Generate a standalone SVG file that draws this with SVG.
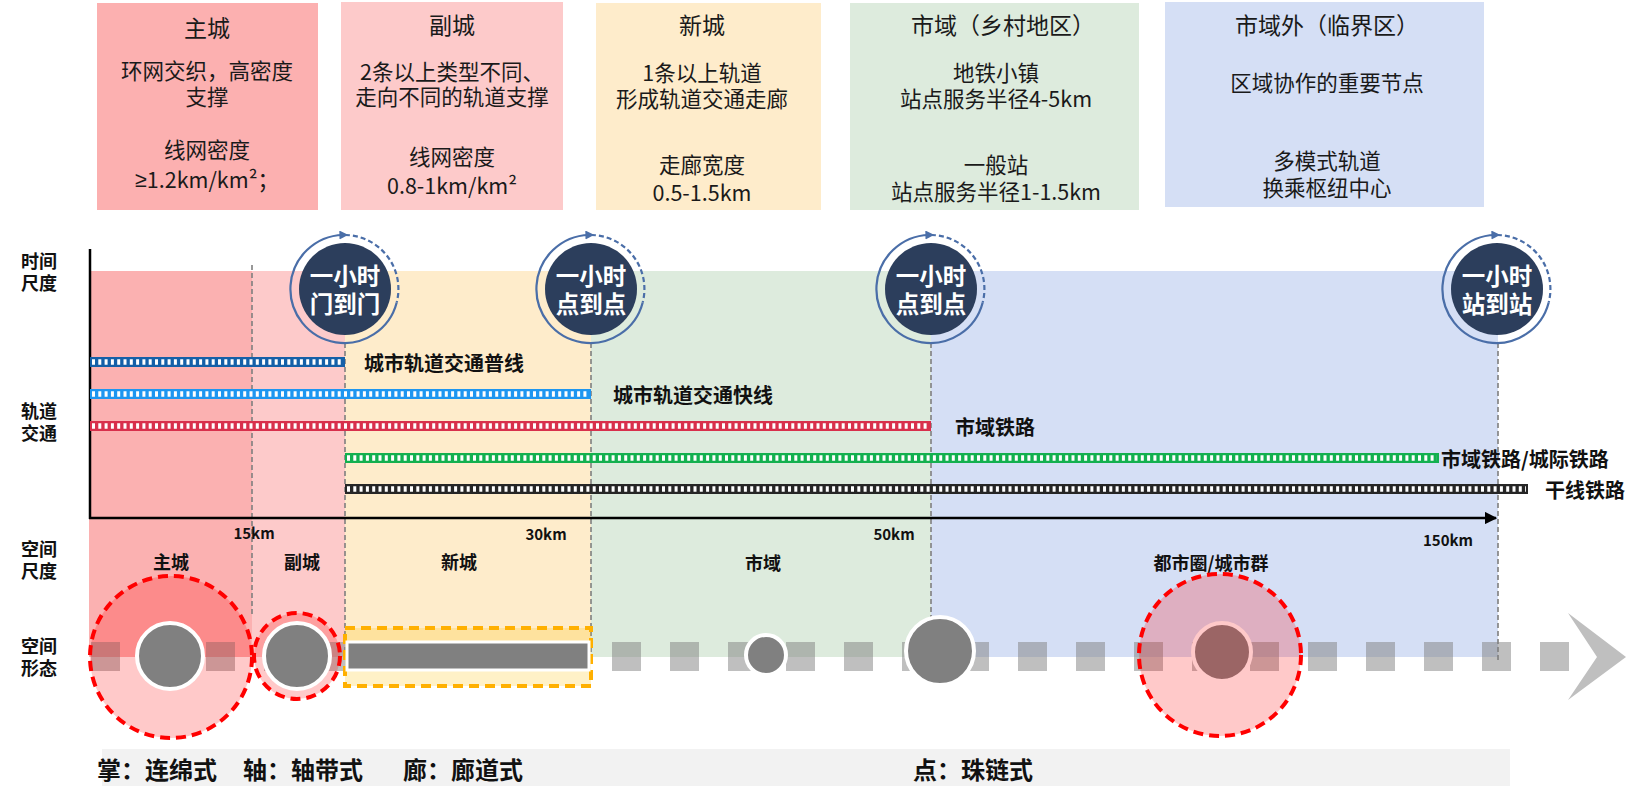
<svg xmlns="http://www.w3.org/2000/svg" width="1636" height="802" viewBox="0 0 1636 802">
<style>
.box-title{font-family:"Noto Sans CJK SC",sans-serif;font-size:23px;fill:#1a1a1a;text-anchor:middle;dominant-baseline:central}
.box-text{font-family:"Noto Sans CJK SC",sans-serif;font-size:21.5px;fill:#1a1a1a;text-anchor:middle;dominant-baseline:central}
.side{font-family:"Noto Sans CJK SC",sans-serif;font-size:18px;font-weight:bold;fill:#111;dominant-baseline:central}
.lbl{font-family:"Noto Sans CJK SC",sans-serif;font-size:20px;font-weight:bold;fill:#111;dominant-baseline:central}
.zlbl{font-family:"Noto Sans CJK SC",sans-serif;font-size:18px;font-weight:bold;fill:#111;dominant-baseline:central;text-anchor:middle}
.km{font-family:"Noto Sans CJK SC",sans-serif;font-size:15px;font-weight:bold;fill:#111;dominant-baseline:central;text-anchor:middle}
.hour{font-family:"Noto Sans CJK SC",sans-serif;font-size:23.5px;font-weight:bold;fill:#fff;dominant-baseline:central;text-anchor:middle}
.form{font-family:"Noto Sans CJK SC",sans-serif;font-size:24px;font-weight:bold;fill:#111;dominant-baseline:central}
.vdash{stroke:#7f7f7f;stroke-width:1.6;stroke-dasharray:5 3;fill:none}
.rail-tick{stroke:#fff;stroke-width:5.5;stroke-dasharray:3 3.3;fill:none}
.ring{fill:none;stroke:#4a6ea8;stroke-width:2.2}
.ring-d{fill:none;stroke:#4a6ea8;stroke-width:2.2;stroke-dasharray:5 3}
.hub{fill:#2c3e5c}
.sq{fill:#808080;fill-opacity:0.5}
.core{fill:#808080;stroke:#fff;stroke-width:4}
.halo{fill:#ff0000;fill-opacity:0.21;stroke:#ff0000;stroke-width:4;stroke-dasharray:10 6}
</style>
<defs>
<marker id="ringArrow" viewBox="0 0 10 10" refX="4" refY="5" markerWidth="9" markerHeight="9" orient="auto" markerUnits="userSpaceOnUse">
<path d="M0,0 L10,5 L0,10 z" fill="#4a6ea8"/>
</marker>
<marker id="axisArrow" viewBox="0 0 10 10" refX="9" refY="5" markerWidth="5" markerHeight="5" orient="auto">
<path d="M0,0 L10,5 L0,10 z" fill="#000"/>
</marker>
</defs>
<rect width="1636" height="802" fill="#fff"/>

<!-- top boxes -->
<g id="box-main">
<rect x="97" y="3" width="221" height="207" fill="#fcb0b0"/>
<text class="box-title" x="207" y="27">主城</text>
<text class="box-text" x="207" y="69">环网交织，高密度</text>
<text class="box-text" x="207" y="95">支撑</text>
<text class="box-text" x="207" y="148">线网密度</text>
<text class="box-text" x="207" y="178"><tspan font-family="Noto Sans, sans-serif">≥</tspan>1.2km/km²；</text>
</g>
<g id="box-sub">
<rect x="341" y="2" width="222" height="208" fill="#fdcaca"/>
<text class="box-title" x="452" y="24">副城</text>
<text class="box-text" x="452" y="70">2条以上类型不同、</text>
<text class="box-text" x="452" y="95">走向不同的轨道支撑</text>
<text class="box-text" x="452" y="155">线网密度</text>
<text class="box-text" x="452" y="184">0.8-1km/km²</text>
</g>
<g id="box-new">
<rect x="596" y="3" width="225" height="207" fill="#feeccb"/>
<text class="box-title" x="702" y="24">新城</text>
<text class="box-text" x="702" y="71">1条以上轨道</text>
<text class="box-text" x="702" y="97">形成轨道交通走廊</text>
<text class="box-text" x="702" y="163">走廊宽度</text>
<text class="box-text" x="702" y="191">0.5-1.5km</text>
</g>
<g id="box-city">
<rect x="850" y="3" width="289" height="207" fill="#ddebdd"/>
<text class="box-title" x="1003" y="24">市域（乡村地区）</text>
<text class="box-text" x="996" y="71">地铁小镇</text>
<text class="box-text" x="996" y="97">站点服务半径4-5km</text>
<text class="box-text" x="996" y="163">一般站</text>
<text class="box-text" x="996" y="190">站点服务半径1-1.5km</text>
</g>
<g id="box-outer">
<rect x="1165" y="2" width="319" height="205" fill="#d5dff5"/>
<text class="box-title" x="1327" y="24">市域外（临界区）</text>
<text class="box-text" x="1327" y="81">区域协作的重要节点</text>
<text class="box-text" x="1327" y="159">多模式轨道</text>
<text class="box-text" x="1327" y="186">换乘枢纽中心</text>
</g>

<!-- zone backgrounds -->
<g id="zones">
<rect x="89" y="271" width="163" height="386" fill="#fbb1b1"/>
<rect x="252" y="271" width="93" height="386" fill="#fdcaca"/>
<rect x="345" y="271" width="246" height="386" fill="#feeccb"/>
<rect x="591" y="271" width="340" height="386" fill="#ddebdd"/>
<rect x="931" y="271" width="567" height="386" fill="#d5dff5"/>
</g>

<!-- side labels -->
<g id="side-labels">
<text class="side" x="21" y="260">时间</text>
<text class="side" x="21" y="282">尺度</text>
<text class="side" x="21" y="410">轨道</text>
<text class="side" x="21" y="432">交通</text>
<text class="side" x="21" y="548">空间</text>
<text class="side" x="21" y="570">尺度</text>
<text class="side" x="21" y="645">空间</text>
<text class="side" x="21" y="667">形态</text>
</g>

<!-- space form dashes -->
<g id="form-band">
<rect class="sq" x="91" y="642" width="29" height="29"/>
<rect class="sq" x="148" y="642" width="29" height="29"/>
<rect class="sq" x="206" y="642" width="29" height="29"/>
<rect class="sq" x="264" y="642" width="29" height="29"/>
<rect class="sq" x="322" y="642" width="29" height="29"/>
<rect class="sq" x="612" y="642" width="29" height="29"/>
<rect class="sq" x="670" y="642" width="29" height="29"/>
<rect class="sq" x="728" y="642" width="29" height="29"/>
<rect class="sq" x="786" y="642" width="29" height="29"/>
<rect class="sq" x="844" y="642" width="29" height="29"/>
<rect class="sq" x="902" y="642" width="29" height="29"/>
<rect class="sq" x="960" y="642" width="29" height="29"/>
<rect class="sq" x="1018" y="642" width="29" height="29"/>
<rect class="sq" x="1076" y="642" width="29" height="29"/>
<rect class="sq" x="1134" y="642" width="29" height="29"/>
<rect class="sq" x="1192" y="642" width="29" height="29"/>
<rect class="sq" x="1250" y="642" width="29" height="29"/>
<rect class="sq" x="1308" y="642" width="29" height="29"/>
<rect class="sq" x="1366" y="642" width="29" height="29"/>
<rect class="sq" x="1424" y="642" width="29" height="29"/>
<rect class="sq" x="1482" y="642" width="29" height="29"/>
<rect class="sq" x="1540" y="642" width="29" height="29"/>
<polygon points="1568,613 1626,657 1568,700 1597,657" fill="#bfbfbf"/>
</g>

<!-- connectors: guide lines, axes, rail lines -->
<g id="connectors">
<line class="vdash" x1="252" y1="265" x2="252" y2="615"/>
<line class="vdash" x1="345" y1="343" x2="345" y2="657"/>
<line class="vdash" x1="591" y1="343" x2="591" y2="657"/>
<line class="vdash" x1="931" y1="343" x2="931" y2="657"/>
<line class="vdash" x1="1498" y1="343" x2="1498" y2="660"/>
<line x1="90" y1="249" x2="90" y2="519" stroke="#000" stroke-width="2.5"/>
<line x1="89" y1="518" x2="1496" y2="518" stroke="#000" stroke-width="2.5" marker-end="url(#axisArrow)"/>

<line x1="90" y1="362" x2="345" y2="362" stroke="#1560a8" stroke-width="10"/>
<line class="rail-tick" x1="92" y1="362" x2="343" y2="362"/>
<line x1="90" y1="394" x2="591" y2="394" stroke="#1e96f0" stroke-width="10"/>
<line class="rail-tick" x1="92" y1="394" x2="589" y2="394"/>
<line x1="90" y1="426" x2="931" y2="426" stroke="#d8304c" stroke-width="10"/>
<line class="rail-tick" x1="92" y1="426" x2="929" y2="426"/>
<line x1="345" y1="458" x2="1439" y2="458" stroke="#13b04f" stroke-width="10"/>
<line class="rail-tick" x1="347" y1="458" x2="1437" y2="458"/>
<line x1="345" y1="489" x2="1528" y2="489" stroke="#262626" stroke-width="10"/>
<line class="rail-tick" x1="347" y1="489" x2="1526" y2="489"/>
</g>

<g id="rail-labels">
<text class="lbl" x="364" y="362">城市轨道交通普线</text>
<text class="lbl" x="613" y="394">城市轨道交通快线</text>
<text class="lbl" x="955" y="426">市域铁路</text>
<text class="lbl" x="1441" y="458">市域铁路/城际铁路</text>
<text class="lbl" x="1545" y="489">干线铁路</text>
</g>

<g id="km-labels">
<text class="km" x="254" y="532">15km</text>
<text class="km" x="546" y="533">30km</text>
<text class="km" x="894" y="533">50km</text>
<text class="km" x="1448" y="539">150km</text>
</g>

<g id="zone-labels">
<text class="zlbl" x="171" y="561">主城</text>
<text class="zlbl" x="302" y="561">副城</text>
<text class="zlbl" x="459" y="561">新城</text>
<text class="zlbl" x="763" y="562">市域</text>
<text class="zlbl" x="1211" y="562">都市圈/城市群</text>
</g>

<!-- one-hour circles -->
<g id="hour-1">
<path class="ring" d="M396.7,302.5 A54,54 0 1 1 343,235" marker-end="url(#ringArrow)"/>
<path class="ring-d" d="M345,235 A54,54 0 0 1 396.7,302.5"/>
<circle class="hub" cx="345" cy="289" r="46"/>
<text class="hour" x="345" y="275">一小时</text>
<text class="hour" x="345" y="303">门到门</text>
</g>
<g id="hour-2">
<path class="ring" d="M642.7,302.5 A54,54 0 1 1 589,235" marker-end="url(#ringArrow)"/>
<path class="ring-d" d="M591,235 A54,54 0 0 1 642.7,302.5"/>
<circle class="hub" cx="591" cy="289" r="46"/>
<text class="hour" x="591" y="275">一小时</text>
<text class="hour" x="591" y="303">点到点</text>
</g>
<g id="hour-3">
<path class="ring" d="M982.7,302.5 A54,54 0 1 1 929,235" marker-end="url(#ringArrow)"/>
<path class="ring-d" d="M931,235 A54,54 0 0 1 982.7,302.5"/>
<circle class="hub" cx="931" cy="289" r="46"/>
<text class="hour" x="931" y="275">一小时</text>
<text class="hour" x="931" y="303">点到点</text>
</g>
<g id="hour-4">
<path class="ring" d="M1548.7,302.5 A54,54 0 1 1 1495,235" marker-end="url(#ringArrow)"/>
<path class="ring-d" d="M1497,235 A54,54 0 0 1 1548.7,302.5"/>
<circle class="hub" cx="1497" cy="289" r="46"/>
<text class="hour" x="1497" y="275">一小时</text>
<text class="hour" x="1497" y="303">站到站</text>
</g>

<!-- spatial forms -->
<g id="form-main">
<circle class="halo" cx="171" cy="657" r="81"/>
<circle class="core" cx="170" cy="656" r="33"/>
</g>
<g id="form-sub">
<circle class="halo" cx="297" cy="656" r="43"/>
<circle class="core" cx="297" cy="656" r="33"/>
</g>
<g id="form-new">
<rect x="345" y="628" width="246" height="58" fill="#ffc000" fill-opacity="0.22" stroke="#ffb000" stroke-width="4" stroke-dasharray="10 6"/>
<rect x="347" y="642" width="242" height="28" fill="#808080" stroke="#fff" stroke-width="3"/>
</g>
<g id="form-town">
<circle class="core" cx="766" cy="655" r="20"/>
</g>
<g id="form-city">
<circle class="core" cx="940" cy="651" r="34"/>
</g>
<g id="form-metro">
<circle class="core" cx="1222" cy="652" r="29"/>
<circle class="halo" cx="1220" cy="655" r="81"/>
</g>

<!-- bottom bar -->
<g id="form-legend">
<rect x="102" y="749" width="1408" height="37" fill="#f2f2f2"/>
<text class="form" x="97" y="768">掌：连绵式</text>
<text class="form" x="243" y="768">轴：轴带式</text>
<text class="form" x="403" y="768">廊：廊道式</text>
<text class="form" x="913" y="768">点：珠链式</text>
</g>
</svg>
